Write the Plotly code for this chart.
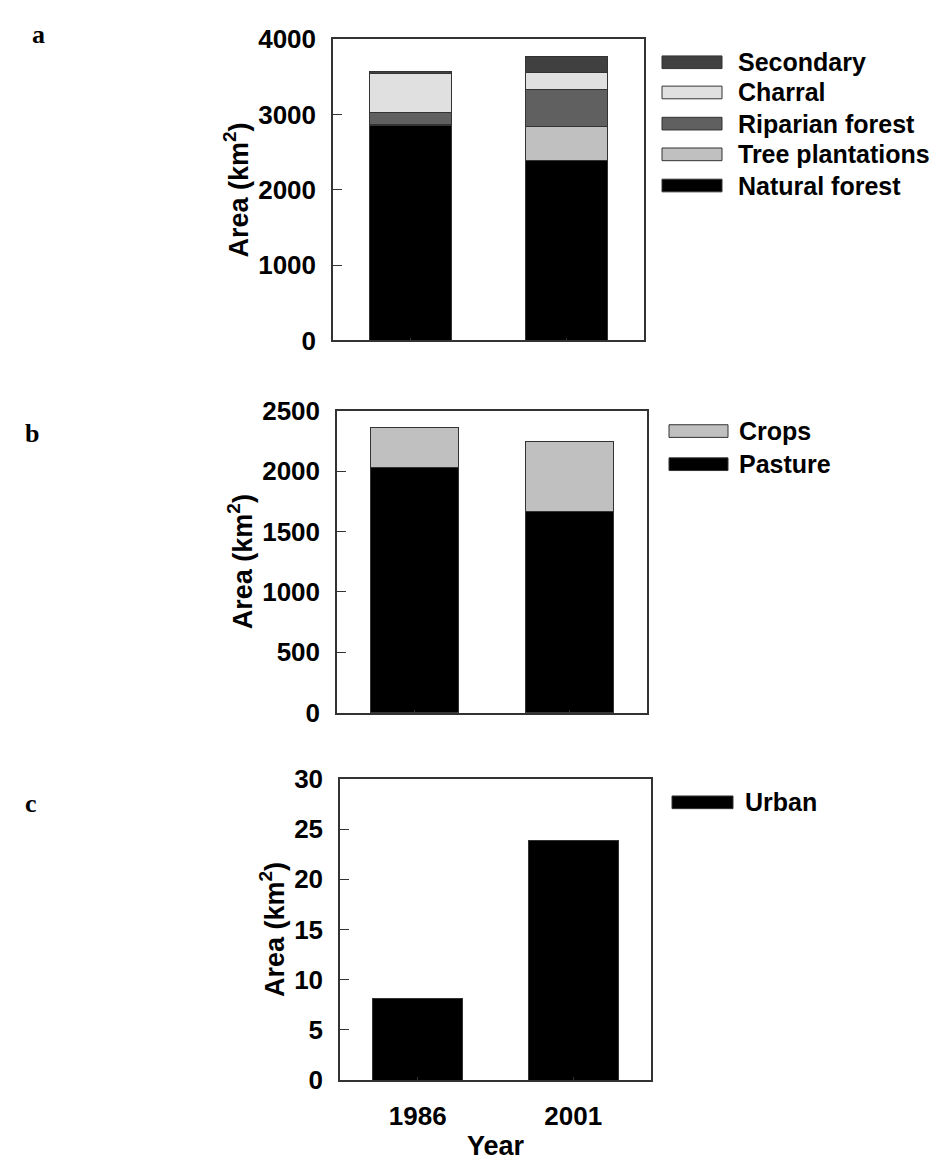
import plotly.graph_objects as go

W, H = 945, 1172

years = ["1986", "2001"]

# Panel a: forest cover (km2)
natural_forest = [2855, 2397]
tree_plantations = [20, 440]
riparian_forest = [150, 500]
charral = [527, 220]
secondary = [26, 220]

# Panel b: agriculture (km2)
pasture = [2032, 1669]
crops = [328, 578]

# Panel c: urban (km2)
urban = [8.1, 23.9]

FONT = "Arial, 'Liberation Sans', sans-serif"
OUT = "#333333"


def px(x):
    return x / W


def py(y):
    return 1 - y / H


fig = go.Figure()

panel_a = [
    ("Natural forest", natural_forest, "#000000"),
    ("Tree plantations", tree_plantations, "#c0c0c0"),
    ("Riparian forest", riparian_forest, "#606060"),
    ("Charral", charral, "#e0e0e0"),
    ("Secondary", secondary, "#404040"),
]
for name, vals, col in panel_a:
    fig.add_trace(go.Bar(x=years, y=vals, name=name, marker_color=col,
                         marker_line=dict(color=OUT, width=1), width=0.53,
                         xaxis="x", yaxis="y", showlegend=False))

panel_b = [
    ("Pasture", pasture, "#000000"),
    ("Crops", crops, "#c0c0c0"),
]
for name, vals, col in panel_b:
    fig.add_trace(go.Bar(x=years, y=vals, name=name, marker_color=col,
                         marker_line=dict(color=OUT, width=1), width=0.57,
                         xaxis="x2", yaxis="y2", showlegend=False))

fig.add_trace(go.Bar(x=years, y=urban, name="Urban", marker_color="#000000",
                     marker_line=dict(color=OUT, width=1), width=0.58,
                     xaxis="x3", yaxis="y3", showlegend=False))

tickfont = dict(family=FONT, size=26, color="black", weight="bold")
titlefont = dict(family=FONT, size=27, color="black", weight="bold")


def xax(x0, x1, anchor, labels):
    return dict(domain=[px(x0), px(x1)], anchor=anchor, type="category",
                range=[-0.5, 1.5], showline=True, mirror=True, linecolor=OUT,
                linewidth=1.5, ticks="inside", ticklen=3, tickcolor=OUT,
                showticklabels=labels, tickfont=tickfont, showgrid=False,
                zeroline=False, ticklabelstandoff=12)


def yax(y0, y1, anchor, rng, dtick):
    return dict(domain=[py(y1), py(y0)], anchor=anchor, range=rng, dtick=dtick,
                showline=True, mirror=True, linecolor=OUT, linewidth=1.5,
                ticks="inside", ticklen=9, tickcolor=OUT, tickfont=tickfont,
                showgrid=False, zeroline=False, ticklabelstandoff=10,
                title=dict(text="Area (km<sup>2</sup>)", font=titlefont, standoff=2))


fig.update_layout(
    width=W, height=H, margin=dict(l=0, r=0, t=0, b=0),
    paper_bgcolor="white", plot_bgcolor="white", barmode="stack",
    bargap=0.4,
    xaxis=xax(333, 644, "y", False),
    yaxis=yax(25, 334, "x", [0, 4000], 1000),
    xaxis2=xax(337, 647, "y2", False),
    yaxis2=yax(406, 716, "x2", [0, 2500], 500),
    xaxis3=dict(xax(340, 651, "y3", True),
                title=dict(text="Year", font=titlefont, standoff=6)),
    yaxis3=yax(784, 1093, "x3", [0, 30], 5),
)

shapes = []
annotations = []


def legend(items, x0, x1, tx, rows):
    for (name, col), yc in zip(items, rows):
        shapes.append(dict(type="rect", xref="paper", yref="paper",
                           x0=px(x0), x1=px(x1), y0=py(yc + 6.5), y1=py(yc - 6.5),
                           fillcolor=col, line=dict(color=OUT, width=1)))
        annotations.append(dict(xref="paper", yref="paper", x=px(tx), y=py(yc),
                                xanchor="left", yanchor="middle", showarrow=False,
                                text=name,
                                font=dict(family=FONT, size=25, color="black",
                                          weight="bold")))


legend([("Secondary", "#404040"), ("Charral", "#e0e0e0"),
        ("Riparian forest", "#606060"), ("Tree plantations", "#c0c0c0"),
        ("Natural forest", "#000000")], 662, 722, 736,
       [48.5, 79.5, 111.5, 143, 175])
legend([("Crops", "#c0c0c0"), ("Pasture", "#000000")], 669, 728, 737,
       [427, 461])
legend([("Urban", "#000000")], 672, 733, 743, [808])

for lab, x, y in [("a", 38, 20), ("b", 32, 430), ("c", 31, 809)]:
    annotations.append(dict(xref="paper", yref="paper", x=px(x), y=py(y),
                            xanchor="center", yanchor="middle", showarrow=False,
                            text=lab,
                            font=dict(family="'Times New Roman', 'Liberation Serif', serif",
                                      size=26, color="black", weight="bold")))

fig.update_layout(shapes=shapes, annotations=annotations)

fig.write_html("out.html")
